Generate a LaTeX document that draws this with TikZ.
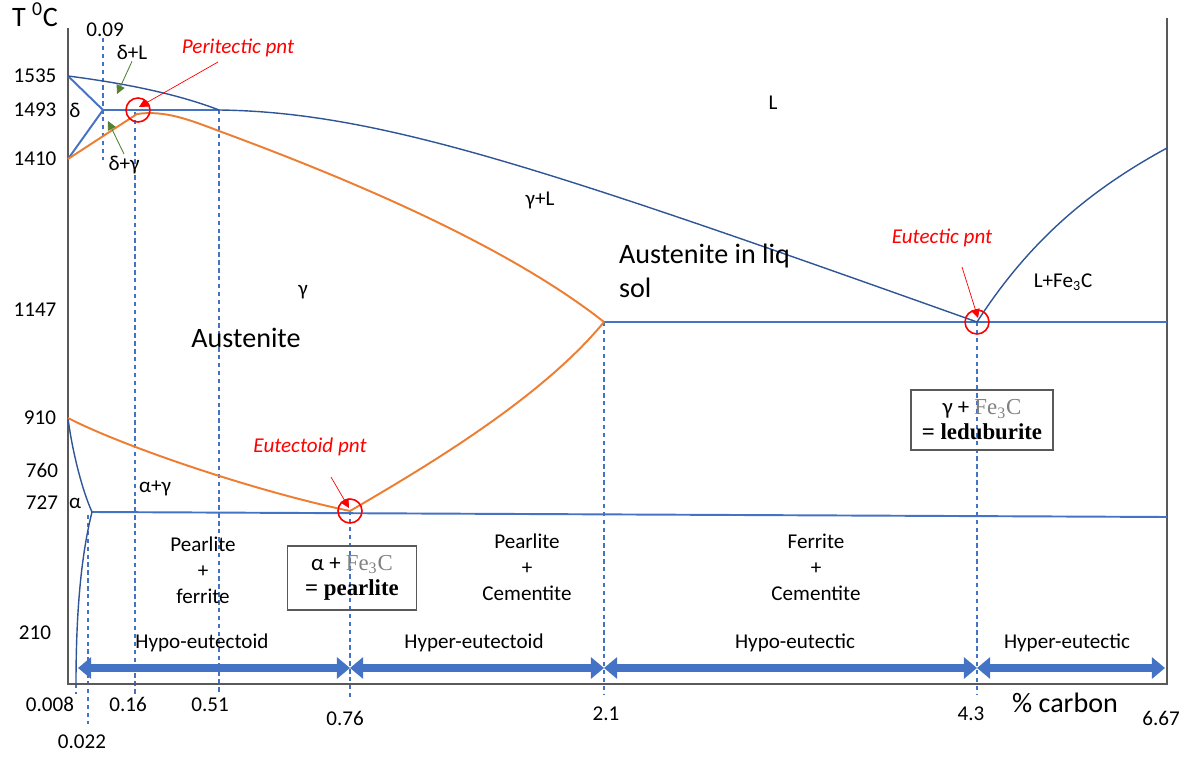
\documentclass[tikz,border=0pt]{standalone}
\usepackage{fontspec}
\setmainfont{Carlito}
\newfontfamily\boxfont{Liberation Serif}
\usetikzlibrary{arrows.meta}

\definecolor{lineblue}{HTML}{4472C4}
\definecolor{liqblue}{HTML}{2F5597}
\definecolor{curveorange}{HTML}{ED7D31}
\definecolor{hintgreen}{HTML}{548235}
\definecolor{axisgray}{HTML}{595959}

\begin{document}
\begin{tikzpicture}[
    x=0.02cm, y=-0.02cm,
    every node/.style={font=\fontsize{12}{14}\selectfont, inner sep=1pt},
    phase/.style={lineblue, line width=1.1pt},
    liquidus/.style={liqblue, line width=0.8pt},
    boundary/.style={curveorange, line width=1.1pt},
    guide/.style={lineblue, line width=0.7pt, dash pattern=on 2.5pt off 2pt},
    axisline/.style={axisgray, line width=0.6pt},
    marker/.style={red, line width=0.9pt},
    pointer/.style={red, line width=0.4pt, -{Triangle[length=5pt, width=5pt]}},
    hint/.style={hintgreen, line width=0.5pt, -{Triangle[length=5pt, width=5pt]}},
    pnt/.style={text=red, font=\fontsize{12}{14}\selectfont\itshape},
    big/.style={font=\fontsize{16}{19}\selectfont},
    region/.style={align=center, font=\fontsize{12}{14.7}\selectfont},
    mixbox/.style={draw=axisgray, line width=0.6pt, align=center,
        font=\fontsize{13}{14.3}\selectfont},
    spanarrow/.style={lineblue, line width=5pt,
        {Triangle[length=7.5pt, width=12pt]}-{Triangle[length=7.5pt, width=12pt]}}
]
    \useasboundingbox (0,0) rectangle (1194,760);

    % --- KEY POINTS ---
    \coordinate (O) at (68,684);       % origin
    \coordinate (Ytop) at (68,28);
    \coordinate (Xend) at (1167,684);
    \coordinate (Rtop) at (1167,18);
    \coordinate (A) at (68,76);        % 1535
    \coordinate (N) at (68,159);       % 1410
    \coordinate (G) at (68,418);       % 910
    \coordinate (H) at (103,110);      % 0.09
    \coordinate (J) at (138,110);      % peritectic
    \coordinate (B) at (219,110);      % 0.51
    \coordinate (E) at (604,322);      % 2.1
    \coordinate (C) at (977,322);      % eutectic
    \coordinate (F) at (1167,322);
    \coordinate (D) at (1167,148);
    \coordinate (P) at (92,512);       % 0.022
    \coordinate (S) at (350,511);      % eutectoid
    \coordinate (K) at (1167,517);
    \coordinate (Q) at (76,684);       % 0.008

    % --- DASHED GUIDES ---
    \draw[guide] (103,38) -- (103,160);
    \draw[guide] (135,112) -- (135,695);
    \draw[guide] (B) -- (219,695);
    \draw[guide] (S) -- (350,700);
    \draw[guide] (E) -- (604,695);
    \draw[guide] (C) -- (977,695);
    \draw[guide] (88,515) -- (88,724);
    \draw[guide] (Q) -- (76,694);

    % --- AXES ---
    \draw[axisline] (Ytop) -- (O) -- (Xend) -- (Rtop);

    % --- PHASE LINES ---
    \draw[phase] (A) -- (H) -- (N);
    \draw[phase] (H) -- (B);
    \draw[phase] (E) -- (F);
    \draw[phase] (P) -- (K);
    \draw[liquidus] (A) .. controls (130,84) and (180,95) .. (B)
        .. controls (380,112) and (550,170) .. (C)
        .. controls (1030,240) and (1090,190) .. (D);
    \draw[liquidus] (G) .. controls (72,450) and (82,490) .. (P)
        .. controls (80,560) and (76,620) .. (Q);

    % orange boundaries
    \draw[boundary] (N) -- (137,114) .. controls (165,110) and (190,120) .. (219,131)
        .. controls (330,172) and (500,240) .. (E);
    \draw[boundary] (G) .. controls (120,445) and (250,490) .. (S);
    \draw[boundary] (S) .. controls (420,470) and (540,400) .. (E);

    % --- SPECIAL POINTS ---
    \draw[marker] (J) circle[radius=12];
    \draw[marker] (S) circle[radius=12];
    \draw[marker] (C) circle[radius=12];

    \node[pnt] (peri) at (238,48) {Peritectic pnt};
    \node[pnt] (eutd) at (310,447) {Eutectoid pnt};
    \node[pnt] (eutc) at (942,238) {Eutectic pnt};
    \coordinate (periTail) at (218,62);
    \coordinate (periTip) at (139,107);
    \coordinate (eutdTail) at (331,477);
    \coordinate (eutdTip) at (349,508);
    \coordinate (eutcTail) at (962,267);
    \coordinate (eutcTip) at (978,318);
    \draw[pointer] (periTail) -- (periTip);
    \draw[pointer] (eutdTail) -- (eutdTip);
    \draw[pointer] (eutcTail) -- (eutcTip);

    % --- AXIS LABELS ---
    \node[big] (tunit) at (35,15) {T \textsuperscript{0}C};
    \node (t1535) at (35,76) {1535};
    \node (t1493) at (35,110) {1493};
    \node (t1410) at (35,159) {1410};
    \node (t1147) at (35,310) {1147};
    \node (t910) at (40,418) {910};
    \node (t760) at (42,470) {760};
    \node (t727) at (42,503) {727};
    \node (t210) at (35,633) {210};

    \node (c009) at (105,30) {0.09};
    \node (c0008) at (50,704) {0.008};
    \node (c016) at (128,704) {0.16};
    \node (c051) at (210,705) {0.51};
    \node (c076) at (345,718) {0.76};
    \node (c21) at (606,714) {2.1};
    \node (c43) at (971,714) {4.3};
    \node (c667) at (1161,718) {6.67};
    \node (c0022) at (82,742) {0.022};
    \node[big] (carbon) at (1065,703) {\% carbon};

    % --- PHASE LABELS ---
    \node (delta) at (75,110) {δ};
    \node (dL) at (132,52) {δ+L};
    \node (dg) at (124,165) {δ+γ};
    \coordinate (dLtip) at (117,94);
    \coordinate (dgtip) at (108,121);
    \draw[hint] (dL.south) -- (dLtip);
    \draw[hint] (dg.north) -- (dgtip);

    \node (liq) at (773,103) {L};
    \node (gL) at (540,200) {γ+L};
    \node (gam) at (303,292) {γ};
    \node[big] (aust) at (246,338) {Austenite};
    \node[big, align=left, anchor=west] (austliq) at (617,271) {Austenite in liq\\sol};
    \node (LFe) at (1063,282) {L+Fe\textsubscript{3}C};
    \node (ag) at (155,488) {α+γ};
    \node (alpha) at (75,503) {α};

    \node[region] (pf) at (203,570) {Pearlite\\+\\ferrite};
    \node[region] (pc) at (527,567) {Pearlite\\+\\Cementite};
    \node[region] (fc) at (816,567) {Ferrite\\+\\Cementite};

    \node[mixbox, minimum width=2.58cm, minimum height=1.28cm] (pearlite) at (352,578)
        {α + {\boxfont\color{gray}Fe\textsubscript{3}C}\\{\boxfont\bfseries = pearlite}};
    \node[mixbox, minimum width=2.84cm, minimum height=1.2cm] (ledeb) at (982,420)
        {γ + {\boxfont\color{gray}Fe\textsubscript{3}C}\\{\boxfont\bfseries = leduburite}};

    % --- RANGES ---
    \node (hypod) at (202,643) {Hypo-eutectoid};
    \node (hyperd) at (474,643) {Hyper-eutectoid};
    \node (hypoc) at (795,643) {Hypo-eutectic};
    \node (hyperc) at (1067,643) {Hyper-eutectic};
    \coordinate (r0) at (78,668);
    \coordinate (r1) at (350,668);
    \coordinate (r2) at (604,668);
    \coordinate (r3) at (977,668);
    \coordinate (r4) at (1165,668);
    \draw[spanarrow] (r0) -- (r1);
    \draw[spanarrow] (r1) -- (r2);
    \draw[spanarrow] (r2) -- (r3);
    \draw[spanarrow] (r3) -- (r4);

\end{tikzpicture}
\end{document}
